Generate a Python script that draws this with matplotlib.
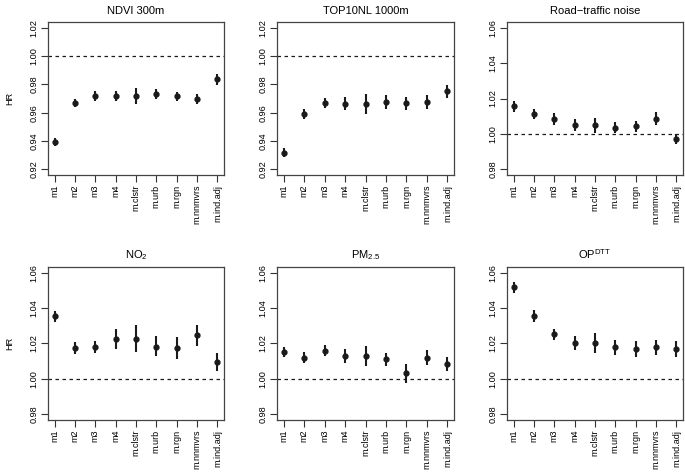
import matplotlib

matplotlib.use("Agg")
import matplotlib.pyplot as plt
import numpy as np

plt.rcParams["font.family"] = ["Liberation Sans", "DejaVu Sans"]
plt.rcParams["mathtext.fontset"] = "custom"
plt.rcParams["mathtext.rm"] = "Liberation Sans"

models = ["m1", "m2", "m3", "m4", "m.clstr", "m.urb", "m.rgn", "m.nnmvrs", "m.ind.adj"]

# hazard ratios with 95% CI
ndvi_hr = [0.9394, 0.9667, 0.9719, 0.9721, 0.9720, 0.9733, 0.9716, 0.9700, 0.9836]
ndvi_lo = [0.9364, 0.9640, 0.9685, 0.9684, 0.9663, 0.9698, 0.9681, 0.9660, 0.9798]
ndvi_hi = [0.9424, 0.9695, 0.9750, 0.9754, 0.9775, 0.9765, 0.9749, 0.9735, 0.9873]

top10_hr = [0.9317, 0.9593, 0.9665, 0.9663, 0.9660, 0.9674, 0.9665, 0.9674, 0.9751]
top10_lo = [0.9289, 0.9555, 0.9630, 0.9616, 0.9593, 0.9623, 0.9620, 0.9625, 0.9702]
top10_hi = [0.9350, 0.9623, 0.9702, 0.9710, 0.9733, 0.9724, 0.9710, 0.9724, 0.9798]

noise_hr = [1.0155, 1.0114, 1.0086, 1.0049, 1.0049, 1.0036, 1.0043, 1.0086, 0.9972]
noise_lo = [1.0125, 1.0086, 1.0052, 1.0015, 1.0006, 1.0006, 1.0011, 1.0052, 0.9942]
noise_hi = [1.0185, 1.0142, 1.0118, 1.0082, 1.0090, 1.0065, 1.0073, 1.0121, 1.0002]

no2_hr = [1.0353, 1.0175, 1.0182, 1.0227, 1.0227, 1.0182, 1.0175, 1.0246, 1.0096]
no2_lo = [1.0321, 1.0141, 1.0148, 1.0171, 1.0150, 1.0128, 1.0115, 1.0188, 1.0043]
no2_hi = [1.0381, 1.0208, 1.0216, 1.0281, 1.0302, 1.0240, 1.0235, 1.0306, 1.0148]

pm25_hr = [1.0150, 1.0120, 1.0160, 1.0130, 1.0130, 1.0111, 1.0036, 1.0120, 1.0083]
pm25_lo = [1.0122, 1.0090, 1.0130, 1.0088, 1.0072, 1.0072, 0.9978, 1.0081, 1.0043]
pm25_hi = [1.0178, 1.0150, 1.0190, 1.0169, 1.0186, 1.0148, 1.0087, 1.0161, 1.0122]

op_hr = [1.0518, 1.0356, 1.0251, 1.0203, 1.0203, 1.0178, 1.0169, 1.0178, 1.0169]
op_lo = [1.0488, 1.0321, 1.0218, 1.0162, 1.0147, 1.0137, 1.0124, 1.0137, 1.0124]
op_hi = [1.0546, 1.0390, 1.0283, 1.0244, 1.0261, 1.0220, 1.0214, 1.0220, 1.0212]

titles = ["NDVI 300m", "TOP10NL 1000m", "Road\u2212traffic noise",
          r"NO$\mathregular{_2}$", r"PM$\mathregular{_{2.5}}$", r"OP$\mathregular{^{DTT}}$"]
panels = [(ndvi_hr, ndvi_lo, ndvi_hi), (top10_hr, top10_lo, top10_hi),
          (noise_hr, noise_lo, noise_hi), (no2_hr, no2_lo, no2_hi),
          (pm25_hr, pm25_lo, pm25_hi), (op_hr, op_lo, op_hi)]
yticks_green = [0.92, 0.94, 0.96, 0.98, 1.00, 1.02]
yticks_other = [0.98, 1.00, 1.02, 1.04, 1.06]

W, H = 685, 473
fig = plt.figure(figsize=(W / 100, H / 100), dpi=100)
lefts = [48, 277, 507]
rights = [224, 454, 683]
tops = [22, 267]
box_h = 153

for k in range(6):
    r, c = divmod(k, 3)
    l, rr, t = lefts[c], rights[c], tops[r]
    ax = fig.add_axes([l / W, (H - t - box_h) / H, (rr - l) / W, box_h / H])
    hr, lo, hi = panels[k]
    x = np.arange(1, len(models) + 1)
    ax.vlines(x, lo, hi, color="#1a1a1a", lw=1.5)
    ax.plot(x, hr, "o", color="#1a1a1a", ms=3.5)
    ax.axhline(1.0, color="#1a1a1a", lw=0.9, ls=(0, (2.8, 2.8)))
    yt = yticks_green if k < 2 else yticks_other
    span = yt[-1] - yt[0]
    ax.set_ylim(yt[0] - 0.04 * span, yt[-1] + 0.04 * span)
    ax.set_xlim(1 - 0.04 * 8, 9 + 0.04 * 8)
    ax.set_yticks(yt)
    ax.set_yticklabels([f"{v:.2f}" for v in yt], rotation=90, va="center", fontsize=6.6)
    ax.set_xticks(x)
    ax.set_xticklabels(models, rotation=90, fontsize=6.5)
    ax.tick_params(length=5, width=0.8, color="#333333", pad=2)
    for s in ax.spines.values():
        s.set_color("#444444")
        s.set_linewidth(0.9)
    ax.set_title(titles[k], fontsize=8, pad=6)
    if c == 0:
        ax.set_ylabel("HR", fontsize=6.6, labelpad=11)

fig.savefig("out.png", dpi=100)
